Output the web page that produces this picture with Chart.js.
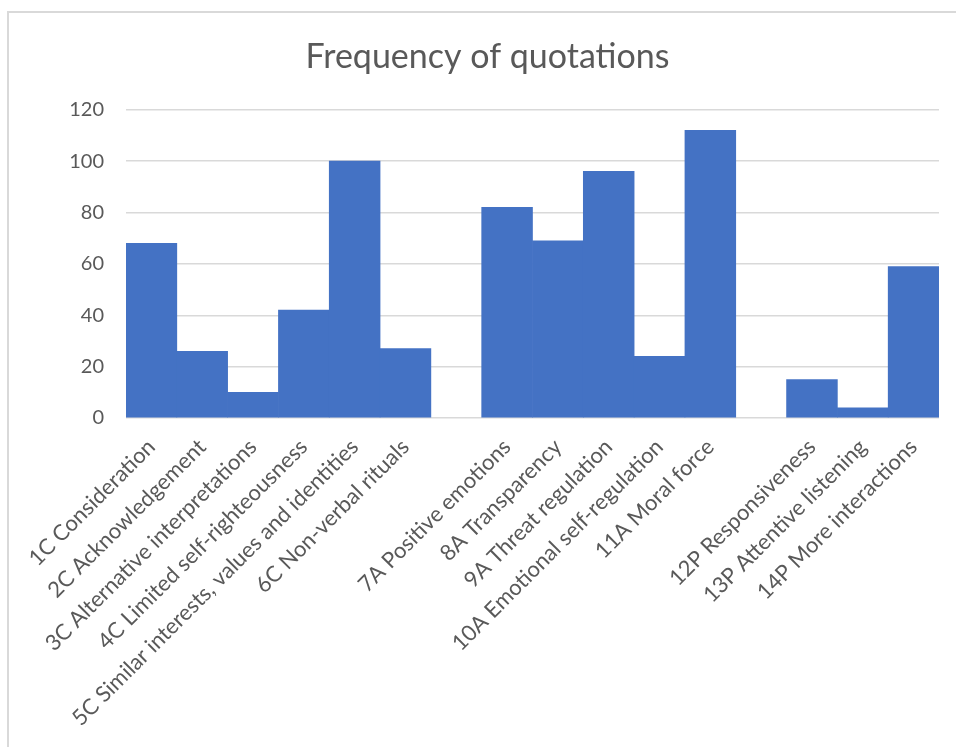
<!DOCTYPE html>
<html>
<head>
<meta charset="utf-8">
<script src="https://cdn.jsdelivr.net/npm/chart.js@4.4.0/dist/chart.umd.min.js"></script>
<style>
  html, body { margin: 0; padding: 0; background: #ffffff; }
  #wrap { width: 956px; height: 747px; }
</style>
</head>
<body>
<div id="wrap"><canvas id="chart" width="956" height="747"></canvas></div>
<script>
// Categories (empty strings separate the C, A and P groups)
const categories = [
  '1C Consideration',
  '2C Acknowledgement',
  '3C Alternative interpretations',
  '4C Limited self-righteousness',
  '5C Similar interests, values and identities',
  '6C Non-verbal rituals',
  '',
  '7A Positive emotions',
  '8A Transparency',
  '9A Threat regulation',
  '10A Emotional self-regulation',
  '11A Moral force',
  '',
  '12P Responsiveness',
  '13P Attentive listening',
  '14P More interactions'
];

// Number of quotations per code
const quotations = [68, 26, 10, 42, 100, 27, null, 82, 69, 96, 24, 112, null, 15, 4, 59];

// Value axis
const yMin = 0;
const yMax = 120;
const yStep = 20;

const textColor = '#595959';
const gridColor = '#d9d9d9';
const barColor = '#4472C4';
const fontFamily = 'Lato, "Open Sans", sans-serif';

// White background plus the light frame around the chart
const framePlugin = {
  id: 'frame',
  beforeDraw(chart) {
    const ctx = chart.ctx;
    ctx.save();
    ctx.fillStyle = '#ffffff';
    ctx.fillRect(0, 0, chart.width, chart.height);
    ctx.strokeStyle = gridColor;
    ctx.lineWidth = 2;
    ctx.strokeRect(8, 12, chart.width + 20, chart.height + 20);
    ctx.restore();
  }
};

new Chart(document.getElementById('chart'), {
  type: 'bar',
  data: {
    labels: categories,
    datasets: [{
      label: 'Frequency of quotations',
      data: quotations,
      backgroundColor: barColor,
      borderWidth: 0,
      barPercentage: 1.0,
      categoryPercentage: 1.0
    }]
  },
  options: {
    responsive: false,
    animation: false,
    layout: { padding: { left: 36, right: 17, top: 0, bottom: 0 } },
    plugins: {
      legend: { display: false },
      tooltip: { enabled: false },
      title: {
        display: true,
        text: 'Frequency of quotations',
        color: textColor,
        font: { family: fontFamily, size: 34, weight: 'normal' },
        padding: { top: 37, bottom: 32 }
      }
    },
    scales: {
      x: {
        grid: { display: false, drawTicks: false },
        border: { display: false },
        ticks: {
          color: textColor,
          font: { family: fontFamily, size: 22 },
          minRotation: 45,
          maxRotation: 45,
          autoSkip: false,
          padding: 16
        },
        afterFit(scale) { scale.height = 747 - 418; }
      },
      y: {
        min: yMin,
        max: yMax,
        grid: { color: gridColor, lineWidth: 1.5, drawTicks: false },
        border: { display: false },
        ticks: {
          stepSize: yStep,
          color: textColor,
          font: { family: fontFamily, size: 20 },
          padding: 22
        },
        afterFit(scale) { scale.width = 90; }
      }
    }
  },
  plugins: [framePlugin]
});
</script>
</body>
</html>
